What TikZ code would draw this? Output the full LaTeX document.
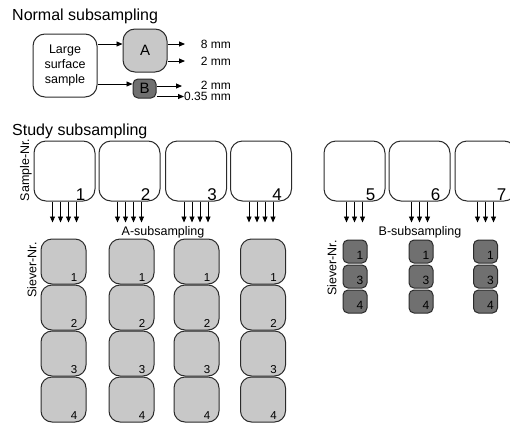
\documentclass[tikz,border=0pt]{standalone}
\usepackage{fontspec}
\setmainfont{Liberation Sans}
\usetikzlibrary{arrows.meta}
\definecolor{lightf}{HTML}{C8C8C8}
\definecolor{darkf}{HTML}{707070}
\definecolor{edge}{HTML}{2B2B2B}
\begin{document}
\begin{tikzpicture}[x=1pt,y=-1pt,
  box/.style={draw=edge, line width=1pt, rounded corners=12pt, inner sep=0pt},
  samplebox/.style={box, minimum width=61pt, minimum height=60pt},
  sieveA/.style={box, fill=lightf, minimum width=45pt, minimum height=45pt, rounded corners=11pt},
  sieveB/.style={box, fill=darkf, minimum width=24pt, minimum height=23pt, rounded corners=5pt},
  arr/.style={-{Triangle[length=6pt,width=5pt]}, line width=0.9pt, draw=black},
  lbl/.style={font=\fontsize{12.5}{15}\selectfont, inner sep=0pt},
  mm/.style={font=\fontsize{12}{14}\selectfont, inner sep=0pt, anchor=east},
  title/.style={font=\fontsize{16}{19}\selectfont, inner sep=0pt, anchor=base west},
  numS/.style={font=\fontsize{17}{20}\selectfont, inner sep=0pt, anchor=base east},
  numA/.style={font=\fontsize{11.5}{13}\selectfont, inner sep=0pt, anchor=base east},
  numB/.style={font=\fontsize{12}{14}\selectfont, inner sep=0pt, anchor=base east},
]
\clip (0,0) rectangle (510,423);

% ---------- Normal subsampling ----------
\node[title] (t1) at (12,20) {Normal subsampling};
\node[box, lbl, minimum width=64pt, minimum height=63pt, align=center] (large) at (65,65.5) {Large\\surface\\sample};
\node[box, fill=lightf, minimum width=44pt, minimum height=43pt, font=\fontsize{15}{18}\selectfont] (A) at (145,50.5) {A};
\node[box, fill=darkf, rounded corners=5pt, minimum width=23pt, minimum height=19pt, font=\fontsize{15}{18}\selectfont] (B) at (144.5,88.5) {B};
\draw[arr] (large.east |- 0,44) -- (A.west |- 0,44);
\draw[arr] (large.east |- 0,84) -- (B.west |- 0,84);

\node[mm] (a8) at (231,44) {8 mm};
\node[mm] (a2) at (231,61) {2 mm};
\node[mm] (b2) at (231,85) {2 mm};
\node[mm] (b035) at (231,96) {0.35 mm};
\coordinate (ea8) at (185,44);
\coordinate (ea2) at (185,61);
\coordinate (eb2) at (182,86);
\coordinate (eb035) at (184,96.5);
\draw[arr] (A.east |- ea8) -- (ea8);
\draw[arr] (A.east |- ea2) -- (ea2);
\draw[arr] (B.east |- eb2) -- (eb2);
\draw[arr] (B.east |- eb035) -- (eb035);

% ---------- Study subsampling ----------
\node[title] (t2) at (12,135) {Study subsampling};
\node[lbl, rotate=90] (snr) at (26,170) {Sample-Nr.};

\foreach \n/\x in {1/64.5,2/129.5,3/196,4/261,5/354.5,6/419.5,7/485.5} {
  \node[samplebox] (s\n) at (\x,171) {};
  \node[numS] at ([xshift=-10pt,yshift=1.5pt]s\n.south east) {\n};
}
\foreach \n in {1,2,3,4} {
  \foreach \d in {-12,-4,4,12} {
    \draw[arr] ([xshift=\d pt]s\n.south) -- ++(0,21);
  }
}
\foreach \n in {5,6,7} {
  \foreach \d in {-8,0,8} {
    \draw[arr] ([xshift=\d pt]s\n.south) -- ++(0,21);
  }
}
\node[lbl] (asub) at (163,232) {A-subsampling};
\node[lbl] (bsub) at (420,232) {B-subsampling};

\node[lbl, rotate=90] (sva) at (32,270) {Siever-Nr.};
\node[lbl, rotate=90] (svb) at (332,268) {Siever-Nr.};

\foreach \c/\x in {1/63.5,2/131.5,3/196.5,4/263} {
  \foreach \r/\y in {1/261.5,2/307.5,3/353.5,4/399.5} {
    \node[sieveA] (a\c\r) at (\x,\y) {};
    \node[numA] at ([xshift=-9pt,yshift=3.5pt]a\c\r.south east) {\r};
  }
}
\foreach \c/\x in {5/355,6/421,7/485.5} {
  \foreach \r/\y in {1/251.5,3/276.5,4/301.5} {
    \node[sieveB] (b\c\r) at (\x,\y) {};
    \node[numB] at ([xshift=-4pt,yshift=4pt]b\c\r.south east) {\r};
  }
}
\end{tikzpicture}
\end{document}
